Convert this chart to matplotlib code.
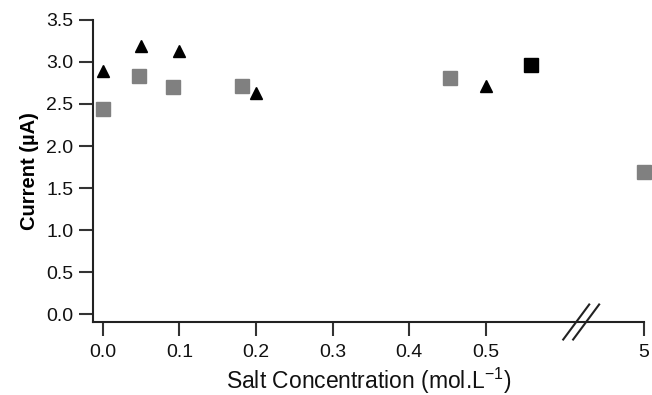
#!/usr/bin/env python3
import matplotlib.pyplot as plt
import numpy as np

plt.switch_backend('Agg')
plt.rcParams['font.family'] = ['Liberation Sans', 'DejaVu Sans']

# данные
tri_x = [0.0, 0.05, 0.1, 0.2, 0.5]
tri_y = [2.89, 3.19, 3.13, 2.63, 2.71]

gray_x = [0.0, 0.047, 0.092, 0.182, 0.454, 5.0]
gray_y = [2.44, 2.83, 2.70, 2.72, 2.81, 1.69]

black_sq_x = [0.56]
black_sq_y = [2.97]

x_ticks = [0.0, 0.1, 0.2, 0.3, 0.4, 0.5, 5.0]
x_tick_labels = ['0.0', '0.1', '0.2', '0.3', '0.4', '0.5', '5']
y_ticks = [0.0, 0.5, 1.0, 1.5, 2.0, 2.5, 3.0, 3.5]

# разрыв оси: линейно до 0.62, дальше сжато
BREAK = 0.62
K = 0.087 / (5.0 - BREAK)


def forward(x):
    x = np.asarray(x, dtype=float)
    return np.where(x <= BREAK, x, BREAK + (x - BREAK) * K)


def inverse(x):
    x = np.asarray(x, dtype=float)
    return np.where(x <= BREAK, x, BREAK + (x - BREAK) / K)


fig = plt.figure(figsize=(6.52, 3.95), dpi=100)
ax = fig.add_axes([0.1426, 0.1848, 0.8451, 0.7646])
ax.set_xscale('function', functions=(forward, inverse))

ax.plot(tri_x, tri_y, '^', color='black', markersize=9, linestyle='none')
ax.plot(gray_x, gray_y, 's', color='#808080', markersize=10, linestyle='none',
        clip_on=False)
ax.plot(black_sq_x, black_sq_y, 's', color='black', markersize=10.5, linestyle='none')

ax.set_xlim(-0.013, 5.0)
ax.set_ylim(-0.095, 3.5)

ax.set_xticks(x_ticks)
ax.set_xticklabels(x_tick_labels)
ax.set_yticks(y_ticks)
ax.set_yticklabels([f'{v:.1f}' for v in y_ticks])
ax.minorticks_off()

for s in ['top', 'right']:
    ax.spines[s].set_visible(False)
for s in ['left', 'bottom']:
    ax.spines[s].set_linewidth(1.5)
    ax.spines[s].set_color('#222222')

ax.tick_params(axis='both', direction='out', length=10, width=1.5,
               color='#333333', labelsize=14, labelcolor='#111111')
ax.tick_params(axis='x', pad=6)
ax.tick_params(axis='y', pad=4)

ax.set_xlabel('Salt Concentration (mol.L$^{\\mathregular{-1}}$)', fontsize=16.5,
              labelpad=3, color='#111111')
ax.set_ylabel('Current (µA)', fontsize=14.5, fontweight='bold', labelpad=5)

# значок разрыва оси
for cx in [0.877, 0.895]:
    ax.plot([cx - 0.0236, cx + 0.0236], [-0.058, 0.058], color='#222222',
            linewidth=1.5, transform=ax.transAxes, clip_on=False)

plt.savefig('out.png', dpi=100)
plt.close(fig)
